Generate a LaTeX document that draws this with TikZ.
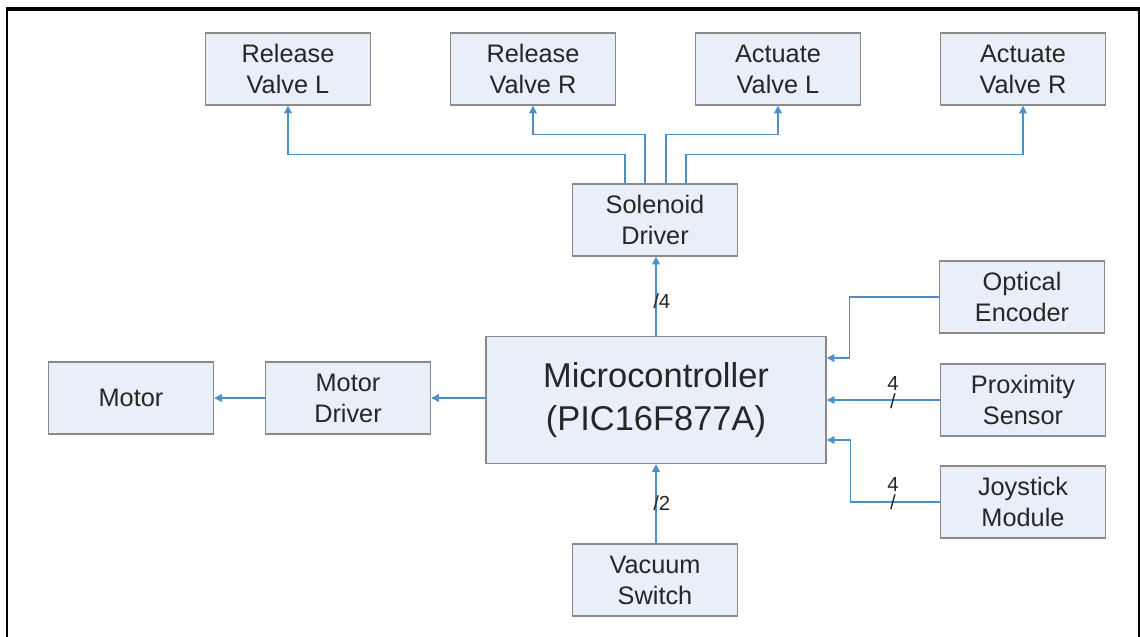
\documentclass[tikz,border=0pt]{standalone}
\usepackage{fontspec}
\setmainfont{Liberation Sans}
\usetikzlibrary{positioning, arrows.meta, calc}
\definecolor{bdfill}{HTML}{E8EFF8}
\definecolor{bdedge}{HTML}{8A8A8A}
\definecolor{bdwire}{HTML}{4A90CC}
\definecolor{bdtext}{HTML}{262626}

\begin{document}
\begin{tikzpicture}[x=0.025cm, y=-0.025cm,
    blk/.style={draw=bdedge, fill=bdfill, line width=1pt, text=bdtext,
                minimum width=4.125cm, minimum height=1.8cm, align=center,
                inner sep=0pt, font=\fontsize{18}{22}\selectfont},
    mcu/.style={blk, minimum width=8.5cm, minimum height=3.175cm,
                font=\fontsize{24.5}{30}\selectfont},
    wire/.style={draw=bdwire, line width=1pt, -{Triangle[length=5.5pt, width=5.5pt]}},
    bus/.style={text=bdtext, font=\fontsize{14.5}{14.5}\selectfont, inner sep=0pt}]
  \useasboundingbox (0,0) rectangle (1140,637);
  % frame
  \draw[line width=2.2pt] (6,9) -- (1140,9);
  \draw[line width=0.9pt] (7,9) -- (7,637);
  \draw[line width=1.1pt] (1139,9) -- (1139,637);

  % blocks
  \node[mcu] (mcu) at (656,400) {Microcontroller\\(PIC16F877A)};
  \node[blk] (sol) at (655,220) {Solenoid\\Driver};
  \node[blk] (rvl) at (288,69) {Release\\Valve L};
  \node[blk] (rvr) at (533,69) {Release\\Valve R};
  \node[blk] (avl) at (778,69) {Actuate\\Valve L};
  \node[blk] (avr) at (1023,69) {Actuate\\Valve R};
  \node[blk] (opt) at (1022,297) {Optical\\Encoder};
  \node[blk] (prx) at (1023,400) {Proximity\\Sensor};
  \node[blk] (joy) at (1023,502) {Joystick\\Module};
  \node[blk] (vac) at (655,580) {Vacuum\\Switch};
  \node[blk] (mdrv) at (348,398) {Motor\\Driver};
  \node[blk] (mot) at (131,398) {Motor};

  % solenoid outputs
  \draw[wire] ($(sol.north)+(-30,0)$) -- ++(0,-29) -| (rvl.south);
  \draw[wire] ($(sol.north)+(-10,0)$) -- ++(0,-49) -| (rvr.south);
  \draw[wire] ($(sol.north)+(11,0)$) -- ++(0,-49) -| (avl.south);
  \draw[wire] ($(sol.north)+(31,0)$) -- ++(0,-29) -| (avr.south);

  % microcontroller links
  \draw[wire] (mcu.north) -- (mcu.north |- sol.south);
  \node[bus, anchor=west] (solbus) at (653,301) {/4};
  \draw[wire] (vac.north -| mcu.south) -- (mcu.south);
  \node[bus, anchor=west] (vacbus) at (653,503) {/2};

  \draw[wire] (opt.west) -- ++(-89,0) |- ($(mcu.east)+(0,-42)$);
  \draw[wire] (prx.west) -- (mcu.east);
  \node[bus] (prxnum) at (893,383) {4};
  \node[bus] (prxcut) at (893,401) {/};
  \draw[wire] (joy.west) -- ++(-89,0) |- ($(mcu.east)+(0,40)$);
  \node[bus] (joynum) at (893,484) {4};
  \node[bus] (joycut) at (893,502) {/};

  \draw[wire] (mcu.west |- mdrv.east) -- (mdrv.east);
  \draw[wire] (mdrv.west) -- (mot.east);
\end{tikzpicture}
\end{document}
